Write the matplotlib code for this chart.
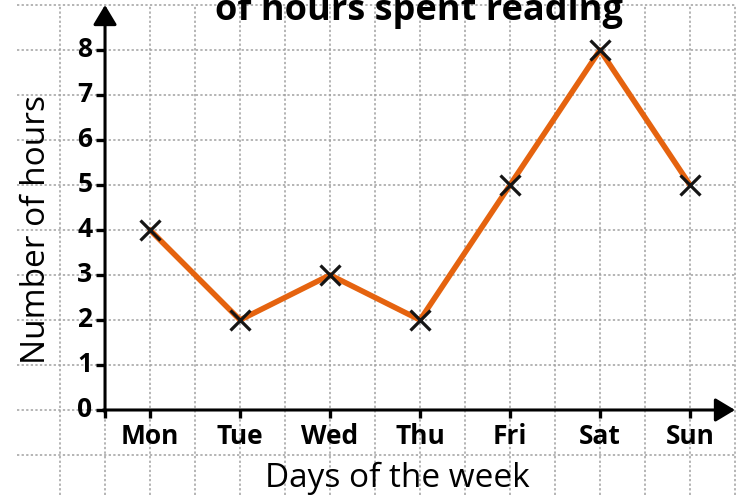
import matplotlib
matplotlib.use("Agg")
import matplotlib.pyplot as plt
import numpy as np

days = ["Mon", "Tue", "Wed", "Thu", "Fri", "Sat", "Sun"]
hours = [4, 2, 3, 2, 5, 8, 5]
y_ticks = [0, 1, 2, 3, 4, 5, 6, 7, 8]

LINE_COLOR = "#e5630f"
GRID_COLOR = "#a0a0a0"
FONT = ["Open Sans", "DejaVu Sans"]

fig = plt.figure(figsize=(7.36, 4.95), dpi=100)
ax = fig.add_axes([0, 0, 1, 1])
# pixel window of the cropped worksheet: 90 px per day, 45 px per hour
ax.set_xlim(-1.667, 6.511)
ax.set_ylim(-1.889, 9.111)
ax.axis("off")

x = np.arange(len(days))
x0 = -0.5  # origin of the axes

# dotted squared paper
for gx in np.arange(-1.0, 6.6, 0.5):
    ax.vlines(gx, -1.889, 9.0, color=GRID_COLOR, lw=1.1,
              linestyle=(0, (1.5, 1.5)), zorder=1)
for gy in range(-1, 10):
    ax.hlines(gy, -1.48, 6.511, color=GRID_COLOR, lw=1.1,
              linestyle=(0, (1.5, 1.5)), zorder=1)

# axes with arrow heads
arrow = dict(arrowstyle="-|>,head_length=0.6,head_width=0.36", lw=2.2,
             color="black", shrinkA=0, shrinkB=0, mutation_scale=20)
ax.annotate("", xy=(x0, 9.0), xytext=(x0, -0.05), arrowprops=arrow, zorder=5)
ax.annotate("", xy=(6.5, 0), xytext=(x0 - 0.02, 0), arrowprops=arrow, zorder=5)

# ticks
for t in y_ticks:
    ax.hlines(t, x0 - 0.1, x0, color="black", lw=2.4, zorder=5)
    ax.text(x0 - 0.14, t, str(t), ha="right", va="center", fontsize=19,
            fontweight="bold", family=FONT, zorder=6)
for xi in [x0] + list(x):
    ax.vlines(xi, -0.18, 0, color="black", lw=2.4, zorder=5)
for xi, d in zip(x, days):
    ax.text(xi, -0.28, d, ha="center", va="top", fontsize=19,
            fontweight="bold", family=FONT, zorder=6)

# data
ax.plot(x, hours, color=LINE_COLOR, lw=4, zorder=7, solid_capstyle="round")
ax.plot(x, hours, linestyle="none", marker="x", markersize=14,
        markeredgewidth=2.3, color="#151515", zorder=8)

ax.text(-1.256, 4.0, "Number of hours", rotation=90, ha="center", va="center",
        fontsize=24, family=FONT)
ax.text(2.744, -1.711, "Days of the week", ha="center", va="baseline",
        fontsize=24, family=FONT)
ax.text(2.989, 8.667, "of hours spent reading", ha="center", va="baseline",
        fontsize=26, fontweight="bold", family=FONT)

fig.savefig("out.png", dpi=100)
